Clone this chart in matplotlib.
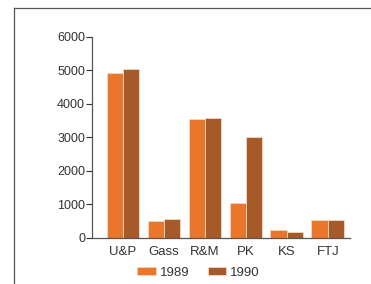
import matplotlib.pyplot as plt
import numpy as np
from matplotlib.lines import Line2D

plt.rcParams["font.family"] = ["Liberation Sans", "DejaVu Sans"]

categories = ["U&P", "Gass", "R&M", "PK", "KS", "FTJ"]
years = ["1989", "1990"]
values_1989 = [4920, 500, 3550, 1050, 250, 540]
values_1990 = [5050, 580, 3570, 3000, 190, 550]
colors = ["#ea762c", "#a65a2a"]

fig = plt.figure(figsize=(3.71, 2.84), dpi=100)
ax = fig.add_axes([0.248, 0.162, 0.695, 0.708])

x = np.arange(len(categories))
w = 0.4
for i, (vals, col, lab) in enumerate(zip([values_1989, values_1990], colors, years)):
    ax.bar(x + (i - 0.5) * w, vals, width=w, color=col, edgecolor="#f3d9c0",
           linewidth=0.6, label=lab)

ax.set_xlim(-0.76, 5.54)
ax.set_ylim(0, 6000)
ax.set_yticks(range(0, 6001, 1000))
ax.set_xticks(x)
ax.set_xticklabels(categories)
ax.tick_params(axis="x", length=0, pad=6, labelsize=9.5, colors="#333333")
ax.tick_params(axis="y", length=4, width=0.8, pad=1, labelsize=9, colors="#333333")
for s in ["top", "right"]:
    ax.spines[s].set_visible(False)
for s in ["left", "bottom"]:
    ax.spines[s].set_color("#555555")
    ax.spines[s].set_linewidth(0.9)

fig.legend(loc="center", bbox_to_anchor=(0.535, 0.04), ncol=2, frameon=False,
           fontsize=9.5, handlelength=1.4, handleheight=0.6, columnspacing=1.4,
           handletextpad=0.3, labelcolor="#333333")

# page frame lines
fig.add_artist(Line2D([0.038, 0.038], [0.0, 0.972], color="#555555", lw=0.9))
fig.add_artist(Line2D([0.038, 1.0], [0.972, 0.972], color="#555555", lw=0.9))

fig.savefig("out.png", dpi=100)
